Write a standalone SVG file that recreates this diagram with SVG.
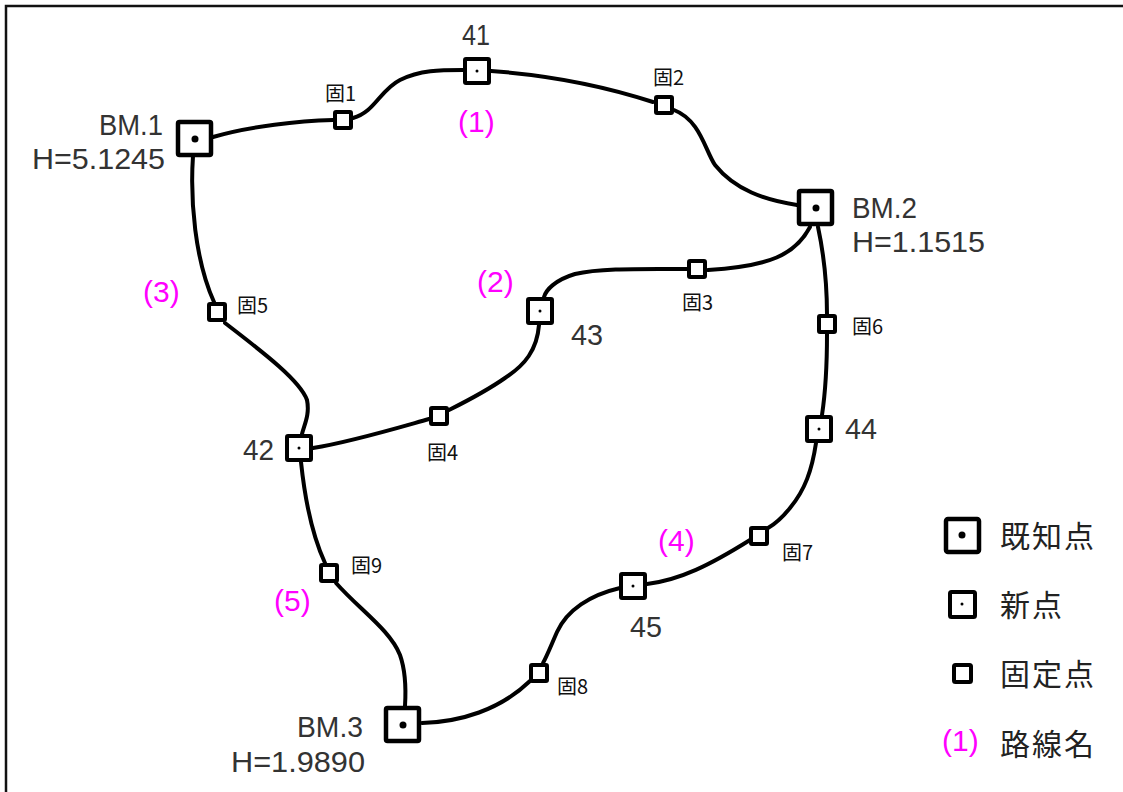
<svg xmlns="http://www.w3.org/2000/svg" width="1123" height="792" viewBox="0 0 1123 792">
<style>
.bg{fill:#fff}
.frame{fill:none;stroke:#111;stroke-width:2.5}
.route{fill:none;stroke:#000;stroke-width:4;stroke-linecap:round}
.bm{fill:#fff;stroke:#000;stroke-width:4.5}
.np{fill:#fff;stroke:#000;stroke-width:4}
.fp{fill:#fff;stroke:#000;stroke-width:4}
.lbl{font-family:"Liberation Sans",Arial,sans-serif;font-size:30px;fill:#333}
.small{font-family:"Noto Sans CJK JP","Noto Sans",sans-serif;font-size:20px;fill:#111}
.route-name{font-family:"Liberation Sans",Arial,sans-serif;font-size:30px;fill:#ff00ff}
.leg{font-family:"Noto Sans CJK JP",sans-serif;font-size:30px;fill:#222;letter-spacing:2px}
</style>
<rect class="bg" x="0" y="0" width="1123" height="792"/>
<rect class="frame" x="6" y="6" width="1140" height="810"/>

<g id="connectors">
  <!-- route 1 -->
  <path class="route" d="M213,137 C250,126 300,121 333,120"/>
  <path class="route" d="M353,118 C375,112 380,90 400,80 C420,70 440,70 463,70"/>
  <path class="route" d="M491,71 C560,76 610,88 653,102"/>
  <path class="route" d="M674,110 C700,120 705,150 715,165 C735,190 765,200 797,205"/>
  <!-- route 2 -->
  <path class="route" d="M810,227 C795,255 770,266 708,270"/>
  <path class="route" d="M687,269 C640,269 600,268 575,274 C555,280 546,290 544,297"/>
  <path class="route" d="M539,325 C537,350 525,365 505,378 C485,392 465,402 449,410"/>
  <path class="route" d="M429,419 C390,430 350,442 313,448"/>
  <!-- route 3 -->
  <path class="route" d="M193,156 C190,200 195,260 214,302"/>
  <path class="route" d="M225,323 C260,350 300,380 307,400 C310,415 304,425 302,434"/>
  <!-- route 4 -->
  <path class="route" d="M818,227 C824,255 827,285 827,315"/>
  <path class="route" d="M827,334 C827,370 825,395 822,415"/>
  <path class="route" d="M816,443 C812,470 805,490 790,508 C782,518 775,524 768,528"/>
  <path class="route" d="M750,540 C710,565 680,580 647,584"/>
  <path class="route" d="M620,588 C590,595 567,610 557,632 C550,648 546,658 543,663"/>
  <path class="route" d="M530,681 C500,710 460,722 422,723"/>
  <!-- route 5 -->
  <path class="route" d="M301,462 C305,500 312,535 325,563"/>
  <path class="route" d="M336,583 C360,610 390,630 400,655 C406,672 406,690 405,706"/>
</g>

<g id="BM1">
  <rect class="bm" x="178" y="122" width="33" height="33" rx="1.5"/>
  <circle cx="195" cy="139" r="3.5"/>
  <text class="lbl" x="163" y="135" text-anchor="end" textLength="64" lengthAdjust="spacingAndGlyphs">BM.1</text>
  <text class="lbl" x="165" y="169" text-anchor="end" textLength="133" lengthAdjust="spacingAndGlyphs">H=5.1245</text>
</g>
<g id="BM2">
  <rect class="bm" x="799" y="191" width="33" height="33" rx="1.5"/>
  <circle cx="816" cy="208" r="3.5"/>
  <text class="lbl" x="852" y="218" textLength="65" lengthAdjust="spacingAndGlyphs">BM.2</text>
  <text class="lbl" x="852" y="252" textLength="133" lengthAdjust="spacingAndGlyphs">H=1.1515</text>
</g>
<g id="BM3">
  <rect class="bm" x="386" y="708" width="33" height="33" rx="1.5"/>
  <circle cx="403" cy="725" r="3.5"/>
  <text class="lbl" x="363" y="737" text-anchor="end" textLength="66" lengthAdjust="spacingAndGlyphs">BM.3</text>
  <text class="lbl" x="365" y="772" text-anchor="end" textLength="134" lengthAdjust="spacingAndGlyphs">H=1.9890</text>
</g>

<g id="P41">
  <rect class="np" x="465" y="59" width="24" height="24" rx="1"/>
  <circle cx="477" cy="71" r="1.5"/>
  <text class="lbl" x="462" y="45" textLength="28" lengthAdjust="spacingAndGlyphs">41</text>
</g>
<g id="P42">
  <rect class="np" x="287" y="436" width="24" height="24" rx="1"/>
  <circle cx="299" cy="448" r="1.5"/>
  <text class="lbl" x="243" y="460" textLength="31" lengthAdjust="spacingAndGlyphs">42</text>
</g>
<g id="P43">
  <rect class="np" x="528" y="299" width="24" height="24" rx="1"/>
  <circle cx="540" cy="311" r="1.5"/>
  <text class="lbl" x="571" y="345" textLength="32" lengthAdjust="spacingAndGlyphs">43</text>
</g>
<g id="P44">
  <rect class="np" x="807" y="417" width="24" height="24" rx="1"/>
  <circle cx="819" cy="429" r="1.5"/>
  <text class="lbl" x="845" y="439" textLength="32" lengthAdjust="spacingAndGlyphs">44</text>
</g>
<g id="P45">
  <rect class="np" x="621" y="574" width="24" height="24" rx="1"/>
  <circle cx="633" cy="586" r="1.5"/>
  <text class="lbl" x="630" y="637" textLength="32" lengthAdjust="spacingAndGlyphs">45</text>
</g>

<g id="F1"><rect class="fp" x="335" y="112" width="16" height="16" rx="1"/><text class="small" x="325" y="101">固1</text></g>
<g id="F2"><rect class="fp" x="656" y="97" width="16" height="16" rx="1"/><text class="small" x="653" y="85">固2</text></g>
<g id="F3"><rect class="fp" x="689" y="261" width="16" height="16" rx="1"/><text class="small" x="682" y="310">固3</text></g>
<g id="F4"><rect class="fp" x="431" y="408" width="16" height="16" rx="1"/><text class="small" x="427" y="460">固4</text></g>
<g id="F5"><rect class="fp" x="209" y="304" width="16" height="16" rx="1"/><text class="small" x="237" y="313">固5</text></g>
<g id="F6"><rect class="fp" x="819" y="316" width="16" height="16" rx="1"/><text class="small" x="852" y="334">固6</text></g>
<g id="F7"><rect class="fp" x="751" y="528" width="16" height="16" rx="1"/><text class="small" x="782" y="560">固7</text></g>
<g id="F8"><rect class="fp" x="531" y="665" width="16" height="16" rx="1"/><text class="small" x="557" y="694">固8</text></g>
<g id="F9"><rect class="fp" x="321" y="565" width="16" height="16" rx="1"/><text class="small" x="351" y="573">固9</text></g>

<g id="route-names">
  <text class="route-name" x="458" y="132">(1)</text>
  <text class="route-name" x="477" y="292">(2)</text>
  <text class="route-name" x="143" y="302">(3)</text>
  <text class="route-name" x="658" y="551">(4)</text>
  <text class="route-name" x="274" y="611">(5)</text>
</g>

<g id="legend">
  <rect class="bm" x="946" y="519" width="33" height="33" rx="2"/>
  <circle cx="962" cy="535" r="3.5"/>
  <text class="leg" x="1000" y="547">既知点</text>
  <rect class="np" x="950" y="592" width="25" height="25" rx="1.5"/>
  <circle cx="962" cy="604" r="1.5"/>
  <text class="leg" x="1000" y="616">新点</text>
  <rect class="fp" x="954" y="665" width="17" height="17" rx="1.5"/>
  <text class="leg" x="1000" y="685">固定点</text>
  <text class="route-name" x="942" y="751">(1)</text>
  <text class="leg" x="1000" y="755">路線名</text>
</g>
</svg>
